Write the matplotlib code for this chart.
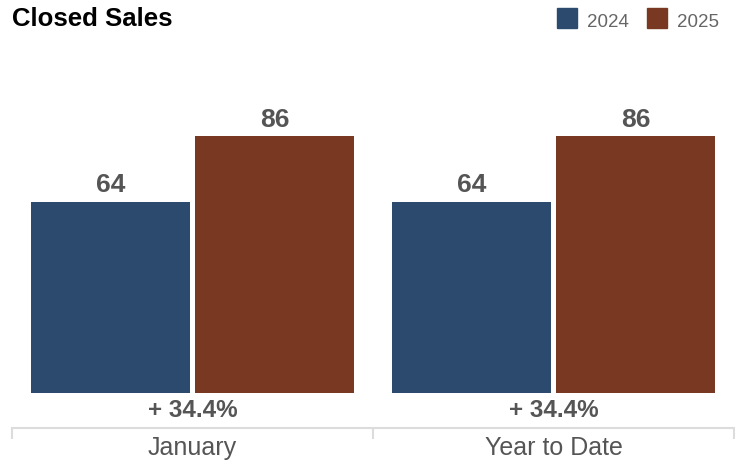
import matplotlib.pyplot as plt
from matplotlib.patches import Rectangle

# data
categories = ['January', 'Year to Date']
years = ['2024', '2025']
sales_2024 = [64, 64]
sales_2025 = [86, 86]
changes = ['+ 34.4%', '+ 34.4%']

colors = ['#2c4a6e', '#793822']
txt_gray = '#555555'
line_gray = '#dcdcdc'
sans = ['Liberation Sans', 'DejaVu Sans']

W, H = 735, 463
fig = plt.figure(figsize=(W / 100, H / 100), dpi=100)

# axes: x from 12px to 734px, y from 428px (axis line) to 40px
px_per_unit = 2.984
ymin = -(428 - 393) / px_per_unit
ymax = (393 - 40) / px_per_unit
ax = fig.add_axes([12 / W, (H - 428) / H, (734 - 12) / W, (428 - 40) / H])
ax.set_xlim(0, len(categories))
ax.set_ylim(ymin, ymax)

bw = 0.44
off = 0.227
for i, cat in enumerate(categories):
    c = i + 0.5
    for val, dx, col in [(sales_2024[i], -off, colors[0]), (sales_2025[i], off, colors[1])]:
        ax.bar(c + dx, val, width=bw, color=col, bottom=0)
        ax.annotate(str(val), (c + dx, val), xytext=(0, 7), textcoords='offset points',
                    ha='center', va='baseline', fontsize=19, fontweight='bold',
                    color=txt_gray, family=sans)
    ax.text(c, -(416.7 - 393) / px_per_unit, changes[i], ha='center', va='baseline',
            fontsize=17.5, fontweight='bold', color=txt_gray, family=sans, clip_on=False)
    ax.text(c, -(455 - 393) / px_per_unit, cat, ha='center', va='baseline',
            fontsize=18, color=txt_gray, family=sans, clip_on=False)

for s in ['top', 'left', 'right']:
    ax.spines[s].set_visible(False)
ax.spines['bottom'].set_color(line_gray)
ax.spines['bottom'].set_linewidth(1.5)
ax.set_yticks([])
ax.set_xticks(range(len(categories) + 1), [''] * (len(categories) + 1))
ax.tick_params(axis='x', direction='out', length=8, width=1.5, color=line_gray)

# title
fig.text(12 / W, 1 - 26 / H, 'Closed Sales', ha='left', va='baseline', fontsize=18.5,
         fontweight='bold', color='black', family=sans)

# legend
leg_x = [557, 647]
for yr, col, x0 in zip(years, colors, leg_x):
    fig.add_artist(Rectangle((x0 / W, 1 - 28 / H), 20 / W, 20 / H,
                             transform=fig.transFigure, color=col))
    fig.text((x0 + 30) / W, 1 - 27 / H, yr, ha='left', va='baseline', fontsize=13.5,
             color='#666666', family=sans)

plt.savefig('out.png', dpi=100)
